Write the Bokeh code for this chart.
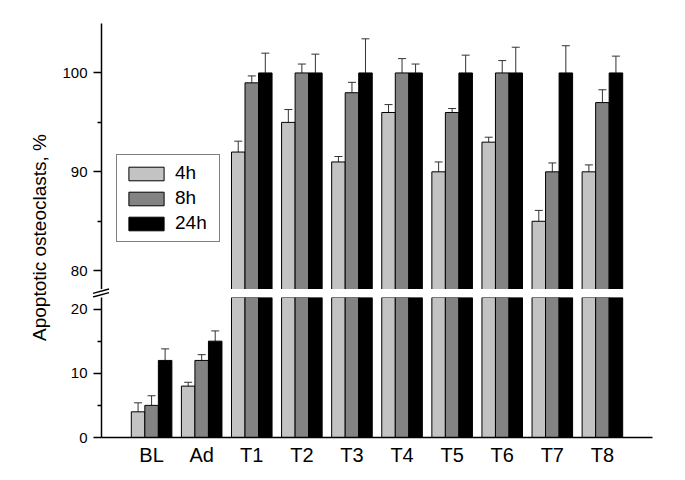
import numpy as np
from bokeh.plotting import figure
from bokeh.models import (ColumnDataSource, Range1d, FixedTicker, Whisker, TeeHead,
                          Legend, LegendItem, Label, CDSView, BooleanFilter, Div)
from bokeh.layouts import row, column
from bokeh.transform import dodge
from bokeh.embed import file_html
from bokeh.resources import INLINE

# ---------------- data ----------------
categories = ["BL", "Ad", "T1", "T2", "T3", "T4", "T5", "T6", "T7", "T8"]
series = ["4h", "8h", "24h"]
mean_4h = [4, 8, 92, 95, 91, 96, 90, 93, 85, 90]
mean_8h = [5, 12, 99, 100, 98, 100, 96, 100, 90, 97]
mean_24h = [12, 15, 100, 100, 100, 100, 100, 100, 100, 100]
err_4h = [1.4, 0.6, 1.1, 1.3, 0.55, 0.8, 1.0, 0.5, 1.1, 0.7]
err_8h = [1.5, 0.9, 0.7, 0.9, 1.05, 1.45, 0.4, 1.25, 0.9, 1.3]
err_24h = [1.8, 1.6, 2.0, 1.9, 3.45, 0.9, 1.8, 2.6, 2.75, 1.7]
upper_ticks = [80, 90, 100]
upper_minor = [85, 95]
lower_ticks = [0, 10, 20]
lower_minor = [5, 15]
y_label = "Apoptotic osteoclasts, %"

UP_LO, UP_HI = 78.1, 105.0
LO_LO, LO_HI = 0, 21.8
X_LO, X_HI = -1, 10

colors = ["#c3c3c3", "#838383", "#000000"]
offsets = [-0.27, 0.0, 0.27]
BW = 0.27
FONT = "Liberation Sans"

W_MAIN, B_LEFT, B_RIGHT = 610, 43, 16

xs = list(range(len(categories)))
means = [mean_4h, mean_8h, mean_24h]
errs = [err_4h, err_8h, err_24h]
sources = []
for m, e in zip(means, errs):
    sources.append(ColumnDataSource(dict(
        x=xs, v=m, hi=[a + b for a, b in zip(m, e)])))

x_range = Range1d(X_LO, X_HI)


def style_yaxis(p, ticks, minor):
    ax = p.yaxis[0]
    ax.ticker = FixedTicker(ticks=ticks, minor_ticks=minor)
    ax.axis_line_width = 1.5
    ax.axis_line_color = "black"
    ax.major_tick_out = 8
    ax.major_tick_in = 0
    ax.minor_tick_out = 4
    ax.minor_tick_in = 0
    ax.major_tick_line_width = 1.5
    ax.minor_tick_line_width = 1.5
    ax.major_label_text_font = FONT
    ax.major_label_text_font_size = "15px"
    ax.major_label_text_color = "black"
    ax.major_label_standoff = 6


def draw_bars(p, ymin):
    rends = []
    for src, off, col, m in zip(sources, offsets, colors, means):
        view = CDSView(filter=BooleanFilter([val > ymin for val in m]))
        r = p.vbar(x=dodge("x", off, range=p.x_range), top="v", bottom=0, width=BW,
                   source=src, view=view, fill_color=col, line_color="black",
                   line_width=1)
        w = Whisker(base=dodge("x", off, range=p.x_range), lower="v", upper="hi",
                    source=src, line_color="#333333", line_width=1,
                    lower_head=None,
                    upper_head=TeeHead(size=8, line_color="#333333", line_width=1))
        p.add_layout(w)
        rends.append(r)
    return rends


# ---------------- upper panel ----------------
up = figure(width=W_MAIN, height=289, x_range=x_range, y_range=Range1d(UP_LO, UP_HI),
            output_backend="svg", toolbar_location=None, x_axis_location=None,
            min_border_left=B_LEFT, min_border_right=B_RIGHT, min_border_top=23,
            min_border_bottom=0)
up.grid.visible = False
up.outline_line_color = None
style_yaxis(up, upper_ticks, upper_minor)
rends = draw_bars(up, UP_LO)

legend = Legend(items=[LegendItem(label=s, renderers=[r]) for s, r in zip(series, rends)],
                location=(15, 47), orientation="vertical",
                border_line_color="black", border_line_width=1,
                background_fill_color="white", background_fill_alpha=1,
                glyph_width=44, glyph_height=17, label_standoff=7, label_width=37,
                spacing=3, padding=7, margin=0,
                label_text_font=FONT, label_text_font_size="19px",
                label_text_color="black")
up.add_layout(legend)

# ---------------- axis-break strip (decoration) ----------------
GAP_H = 8
ax_x = B_LEFT  # axis position inside the strip
brk_svg = (
    f'<svg width="{W_MAIN}" height="{GAP_H}" style="display:block;overflow:visible">'
    f'<line x1="{ax_x - 8}" y1="8" x2="{ax_x + 8}" y2="3.6" stroke="black" stroke-width="1.5"/>'
    f'<line x1="{ax_x - 8}" y1="4.4" x2="{ax_x + 8}" y2="0" stroke="black" stroke-width="1.5"/>'
    '</svg>'
)
mid = Div(text=brk_svg, width=W_MAIN, height=GAP_H, margin=0,
          styles={"margin": "0", "padding": "0", "line-height": "0", "overflow": "visible"})

# ---------------- lower panel ----------------
lo = figure(width=W_MAIN, height=171, x_range=x_range, y_range=Range1d(LO_LO, LO_HI),
            output_backend="svg", toolbar_location=None,
            min_border_left=B_LEFT, min_border_right=B_RIGHT, min_border_top=0,
            min_border_bottom=30)
lo.grid.visible = False
lo.outline_line_color = None
style_yaxis(lo, lower_ticks, lower_minor)
draw_bars(lo, -1)
xa = lo.xaxis[0]
xa.ticker = FixedTicker(ticks=xs, minor_ticks=[])
xa.major_label_overrides = {i: c for i, c in enumerate(categories)}
xa.axis_line_width = 1.5
xa.axis_line_color = "black"
xa.major_tick_out = 0
xa.major_tick_in = 0
xa.minor_tick_out = 0
xa.minor_tick_in = 0
xa.major_label_text_font = FONT
xa.major_label_text_font_size = "20px"
xa.major_label_text_color = "black"
xa.major_label_standoff = 6

# ---------------- y label panel ----------------
lab = figure(width=58, height=468, x_range=Range1d(0, 58), y_range=Range1d(0, 468),
             output_backend="svg", toolbar_location=None,
             x_axis_location=None, y_axis_location=None,
             min_border_left=0, min_border_right=0, min_border_top=0, min_border_bottom=0)
lab.grid.visible = False
lab.outline_line_color = None
lab.add_layout(Label(x=39, y=468 - 237, text=y_label, angle=np.pi / 2,
                     text_align="center", text_baseline="middle",
                     text_font=FONT, text_font_size="19px", text_color="black"))

layout = row(lab, column(up, mid, lo))
open("out.html", "w").write(file_html(layout, INLINE))
